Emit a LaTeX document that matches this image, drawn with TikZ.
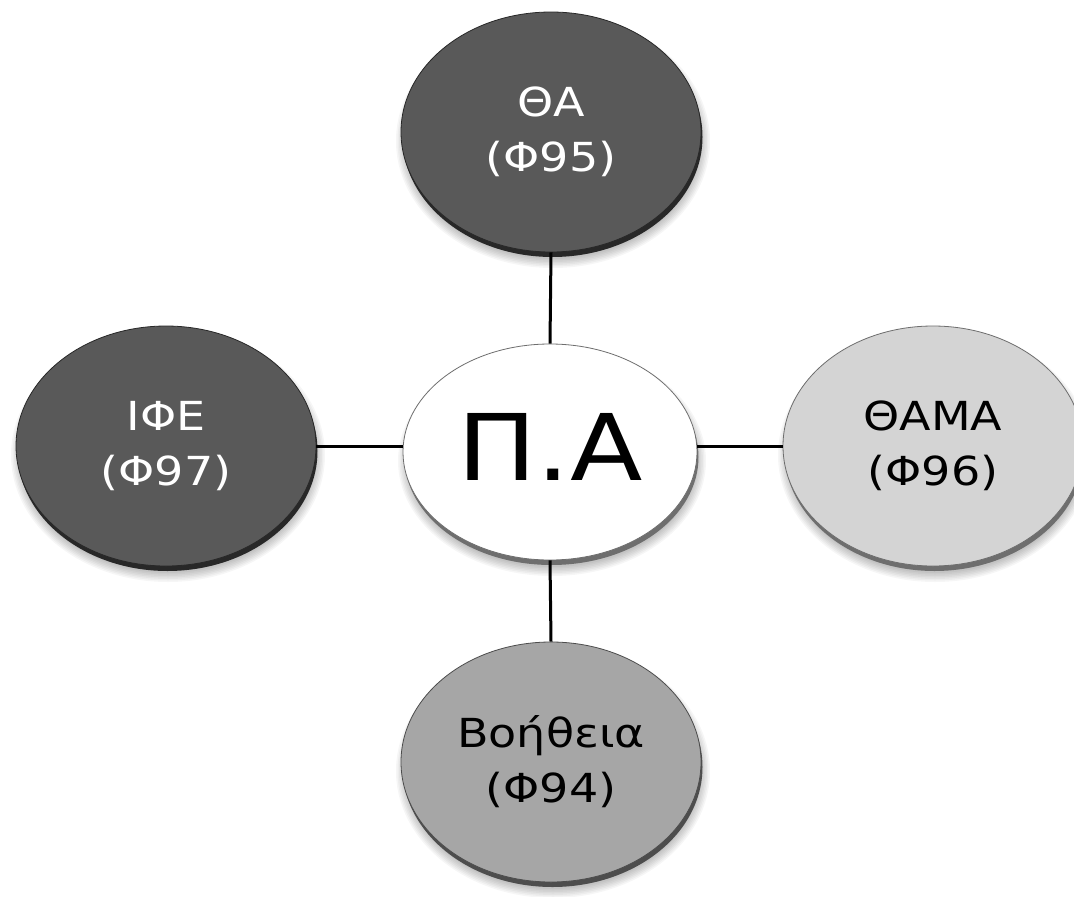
\documentclass[tikz,border=0pt]{standalone}
\usepackage{fontspec}
\setmainfont{DejaVu Sans}[FakeStretch=1.15]
\usetikzlibrary{shapes.geometric}
\definecolor{darkdisc}{RGB}{89,89,89}
\definecolor{lightdisc}{RGB}{212,212,212}
\definecolor{middisc}{RGB}{166,166,166}
\definecolor{darkrim}{RGB}{40,40,40}
\definecolor{lightrim}{RGB}{110,110,110}
\tikzset{
  disc/.style={ellipse, draw=#1, line width=0.8pt, minimum width=300pt, minimum height=240pt, inner sep=0pt, align=center, font=\fontsize{40}{55}\selectfont},
  hubdisc/.style={ellipse, draw=lightrim, line width=0.8pt, fill=white, minimum width=294pt, minimum height=216pt, inner sep=0pt, font=\fontsize{92}{100}\selectfont},
  link/.style={line width=3pt, black}
}
\newcommand{\discunder}[5]{%
  % #1 x, #2 y, #3 rx, #4 ry, #5 rim colour
  \foreach \k in {0,...,6}{
    \fill[black, opacity=0.035] (#1+2, #2+9) ellipse ({#3+7-\k*1.5} and {#4+7-\k*1.5});
  }
  \fill[#5] (#1+1.5, #2+5) ellipse ({#3} and {#4});
}
\begin{document}
\begin{tikzpicture}[x=1pt, y=-1pt]
\useasboundingbox[fill=white] (0,0) rectangle (1074,897);

\discunder{551}{132}{150}{120}{darkrim}
\node[disc=darkrim, fill=darkdisc, text=white] (top) at (551,132) {ΘΑ\\(Φ95)};

\discunder{166}{446}{150}{120}{darkrim}
\node[disc=darkrim, fill=darkdisc, text=white] (left) at (166,446) {ΙΦΕ\\(Φ97)};

\discunder{933}{446}{150}{120}{lightrim}
\node[disc=lightrim, fill=lightdisc, text=black] (right) at (933,446) {ΘΑΜΑ\\(Φ96)};

\discunder{551}{762}{150}{120}{lightrim!70!black}
\node[disc=lightrim!70!black, fill=middisc, text=black] (bottom) at (551,762) {Βοήθεια\\(Φ94)};

\discunder{550}{452}{147}{108}{lightrim}
\node[hubdisc] (hub) at (550,452) {\raisebox{11pt}{Π.Α}};

\draw[link] (top.south) -- (hub.north);
\draw[link] (left.east) -- (left.east -| hub.west);
\draw[link] (right.west) -- (right.west -| hub.east);
\draw[link] (hub.south) -- (bottom.north);
\end{tikzpicture}
\end{document}
